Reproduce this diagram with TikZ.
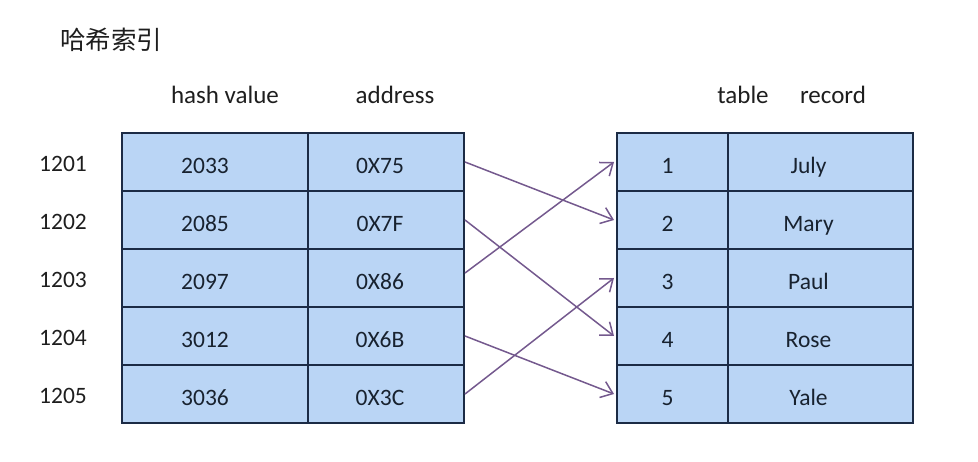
\documentclass[tikz,border=0pt]{standalone}
\usepackage{fontspec}
\setmainfont{Carlito}
\newfontfamily\cjk{Noto Sans CJK SC}
\usetikzlibrary{arrows.meta}
\definecolor{cellfill}{HTML}{BAD5F5}
\definecolor{cellline}{HTML}{1C2B45}
\definecolor{arrowc}{HTML}{74598E}
\definecolor{textc}{HTML}{18222F}
\definecolor{labelc}{HTML}{1E1E1E}
\begin{document}
\begin{tikzpicture}[x=1pt,y=-1pt,
  cell/.style={draw=cellline, line width=2pt, fill=cellfill, minimum height=58pt,
    inner sep=0pt, font=\fontsize{23.5}{28}\selectfont, text=textc,
    text height=24pt, text depth=0pt},
  hcolA/.style={cell, minimum width=186pt},
  hcolB/.style={cell, minimum width=156pt},
  tcolA/.style={cell, minimum width=111pt},
  tcolB/.style={cell, minimum width=185pt},
  head/.style={font=\fontsize{25}{30}\selectfont, text=labelc, inner sep=0pt},
  rowlab/.style={font=\fontsize{23.5}{28}\selectfont, text=labelc, inner sep=0pt},
  arr/.style={draw=arrowc, line width=1.5pt, -{Straight Barb[length=11pt,width=17pt,line width=1.5pt]}}
]
\useasboundingbox (0,0) rectangle (978,462);

% title
\node[font=\cjk\fontsize{25.5}{30}\selectfont, text=labelc, inner sep=0pt] (title) at (111,40) {哈希索引};

% headers
\node[head] (hhash) at (225,95) {hash value};
\node[head] (haddr) at (395,95) {address};
\node[head] (htab) at (743,95) {table};
\node[head] (hrec) at (833,95) {record};

% row labels
\node[rowlab] (r1) at (63,164) {1201};
\node[rowlab] (r2) at (63,222) {1202};
\node[rowlab] (r3) at (63,280) {1203};
\node[rowlab] (r4) at (63,338) {1204};
\node[rowlab] (r5) at (63,396) {1205};

% hash table
\node[hcolA] (h1) at (215,162) {2033\hspace*{20pt}};
\node[hcolA] (h2) at (215,220) {2085\hspace*{20pt}};
\node[hcolA] (h3) at (215,278) {2097\hspace*{20pt}};
\node[hcolA] (h4) at (215,336) {3012\hspace*{20pt}};
\node[hcolA] (h5) at (215,394) {3036\hspace*{20pt}};
\node[hcolB] (a1) at (386,162) {0X75\hspace*{12pt}};
\node[hcolB] (a2) at (386,220) {0X7F\hspace*{12pt}};
\node[hcolB] (a3) at (386,278) {0X86\hspace*{12pt}};
\node[hcolB] (a4) at (386,336) {0X6B\hspace*{12pt}};
\node[hcolB] (a5) at (386,394) {0X3C\hspace*{12pt}};

% record table
\node[tcolA] (t1) at (672.5,162) {1\hspace*{10pt}};
\node[tcolA] (t2) at (672.5,220) {2\hspace*{10pt}};
\node[tcolA] (t3) at (672.5,278) {3\hspace*{10pt}};
\node[tcolA] (t4) at (672.5,336) {4\hspace*{10pt}};
\node[tcolA] (t5) at (672.5,394) {5\hspace*{10pt}};
\node[tcolB] (n1) at (820.5,162) {July\hspace*{24pt}};
\node[tcolB] (n2) at (820.5,220) {Mary\hspace*{24pt}};
\node[tcolB] (n3) at (820.5,278) {Paul\hspace*{24pt}};
\node[tcolB] (n4) at (820.5,336) {Rose\hspace*{24pt}};
\node[tcolB] (n5) at (820.5,394) {Yale\hspace*{24pt}};

% arrows
\draw[arr] (a1.east) -- ([xshift=-2pt]t2.west);
\draw[arr] (a2.east) -- ([xshift=-2pt]t4.west);
\draw[arr] ([yshift=5pt]a3.east) -- ([xshift=-2pt]t1.west);
\draw[arr] (a4.east) -- ([xshift=-2pt]t5.west);
\draw[arr] (a5.east) -- ([xshift=-2pt]t3.west);
\end{tikzpicture}
\end{document}
